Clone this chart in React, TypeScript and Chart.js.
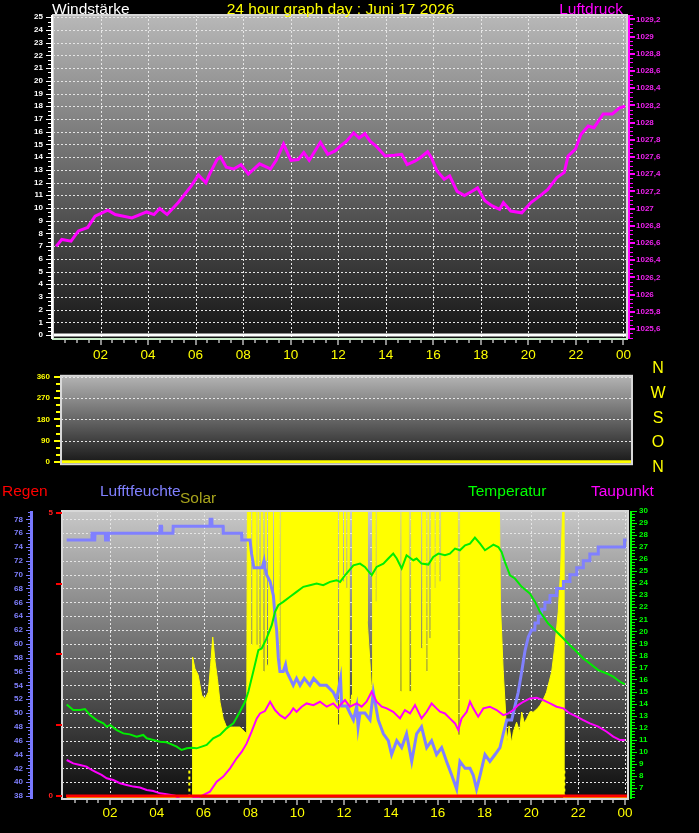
import React, { useEffect, useRef } from "react";
import { Chart, registerables } from "chart.js";

Chart.register(...registerables);

const FONT = '"Liberation Sans", Arial, Helvetica, sans-serif';

// ---------- axis ticks ----------
const hourTicks = [2, 4, 6, 8, 10, 12, 14, 16, 18, 20, 22, 24];
const hourLabels = ["02", "04", "06", "08", "10", "12", "14", "16", "18", "20", "22", "00"];
const windTicks = [0, 1, 2, 3, 4, 5, 6, 7, 8, 9, 10, 11, 12, 13, 14, 15, 16, 17, 18, 19, 20, 21, 22, 23, 24, 25];
const pressureTicks = [1025.6, 1025.8, 1026, 1026.2, 1026.4, 1026.6, 1026.8, 1027, 1027.2, 1027.4, 1027.6, 1027.8, 1028, 1028.2, 1028.4, 1028.6, 1028.8, 1029, 1029.2];
const directionTicks = [0, 90, 180, 270, 360];
const humidityTicks = [38, 40, 42, 44, 46, 48, 50, 52, 54, 56, 58, 60, 62, 64, 66, 68, 70, 72, 74, 76, 78];
const temperatureTicks = [7, 8, 9, 10, 11, 12, 13, 14, 15, 16, 17, 18, 19, 20, 21, 22, 23, 24, 25, 26, 27, 28, 29, 30];
const rainTicks = [0, 5];

// ---------- series: [hour, value] ----------
const windSpeed: [number, number][] = [[0, 0], [24.15, 0]];
const windDirection: [number, number][] = [[0, 0], [24.15, 0]];
const rain: [number, number][] = [[0.12, 0], [24.13, 0]];

const pressure: [number, number][] = [
  [0.13, 1026.56], [0.37, 1026.64], [0.76, 1026.62], [1.07, 1026.74], [1.46, 1026.78], [1.77, 1026.91],
  [2.31, 1026.98], [2.62, 1026.93], [3.32, 1026.89], [3.94, 1026.96], [4.25, 1026.93], [4.49, 1027.0],
  [4.8, 1026.93], [5.27, 1027.07], [5.81, 1027.26], [6.12, 1027.39], [6.43, 1027.3], [6.59, 1027.4],
  [6.9, 1027.57], [7.05, 1027.6], [7.29, 1027.48], [7.6, 1027.46], [7.91, 1027.51], [8.22, 1027.4],
  [8.69, 1027.52], [9.15, 1027.46], [9.39, 1027.56], [9.7, 1027.75], [10.01, 1027.56], [10.32, 1027.57],
  [10.55, 1027.65], [10.78, 1027.56], [11.25, 1027.77], [11.56, 1027.63], [11.87, 1027.67], [12.11, 1027.73],
  [12.34, 1027.78], [12.65, 1027.88], [12.88, 1027.82], [13.12, 1027.87], [13.35, 1027.78], [13.58, 1027.73],
  [13.97, 1027.61], [14.36, 1027.62], [14.67, 1027.63], [14.9, 1027.51], [15.22, 1027.55], [15.45, 1027.59],
  [15.76, 1027.66], [15.92, 1027.59], [16.15, 1027.44], [16.46, 1027.34], [16.69, 1027.38], [17.0, 1027.2],
  [17.31, 1027.15], [17.63, 1027.2], [17.86, 1027.24], [18.17, 1027.09], [18.48, 1027.03], [18.79, 1026.99],
  [18.95, 1027.07], [19.26, 1026.97], [19.72, 1026.95], [20.11, 1027.07], [20.5, 1027.15], [20.81, 1027.22],
  [21.2, 1027.36], [21.51, 1027.42], [21.67, 1027.61], [21.98, 1027.69], [22.21, 1027.86], [22.52, 1027.96],
  [22.76, 1027.94], [23.15, 1028.1], [23.53, 1028.1], [23.84, 1028.17], [24.08, 1028.19],
];

const humidity: [number, number][] = [
  [0.15, 75], [1.22, 75], [1.23, 76], [1.28, 76], [1.29, 75], [1.35, 75], [1.36, 76], [1.8, 76], [1.81, 75],
  [1.92, 75], [1.93, 76], [4.13, 76], [4.14, 77], [4.2, 77], [4.21, 76], [4.69, 76], [4.7, 77], [6.27, 77],
  [6.28, 78], [6.35, 78], [6.36, 77], [6.83, 77], [6.84, 76], [7.62, 76], [7.63, 75], [7.98, 75],
  [8.05, 73], [8.15, 71], [8.5, 71], [8.58, 72], [8.62, 71], [8.69, 70], [8.84, 69], [8.98, 67], [9.05, 64],
  [9.12, 62], [9.19, 58], [9.26, 56], [9.4, 56], [9.5, 57], [9.55, 56], [9.69, 55], [9.83, 54], [9.97, 55],
  [10.12, 54], [10.3, 55], [10.54, 54], [10.7, 55], [10.97, 54], [11.25, 54], [11.54, 53], [11.68, 52],
  [11.85, 55], [11.9, 51], [12.11, 51], [12.25, 50], [12.4, 49], [12.54, 51], [12.6, 48], [12.68, 50],
  [12.89, 50], [13.11, 49], [13.25, 53], [13.46, 49], [13.68, 47], [13.89, 46], [14.03, 44], [14.25, 46],
  [14.46, 45], [14.67, 47], [14.89, 43], [15.1, 47], [15.31, 48], [15.53, 45], [15.74, 46], [15.95, 44],
  [16.17, 45], [16.38, 43], [16.6, 41], [16.81, 39], [16.95, 43], [17.17, 42], [17.38, 42], [17.52, 41],
  [17.66, 39], [17.81, 41], [18.02, 44], [18.23, 43], [18.45, 44], [18.66, 45], [18.8, 47], [18.95, 49],
  [19.16, 49], [19.3, 51], [19.44, 53], [19.59, 56], [19.73, 59], [19.87, 61], [20.01, 62], [20.15, 62],
  [20.16, 63], [20.29, 63], [20.3, 64], [20.43, 64], [20.44, 65], [20.57, 65], [20.58, 66], [20.79, 66],
  [20.8, 67], [21.07, 67], [21.08, 68], [21.36, 68], [21.37, 69], [21.64, 69], [21.65, 70], [21.93, 70],
  [21.94, 71], [22.21, 71], [22.22, 72], [22.49, 72], [22.5, 73], [22.85, 73], [22.86, 74], [23.97, 74],
  [23.98, 75], [24.07, 75],
];

const temperature: [number, number][] = [
  [0.15, 13.93], [0.43, 13.46], [0.72, 13.46], [0.93, 13.54], [1.15, 13.04], [1.43, 12.63], [1.72, 12.35],
  [1.86, 12.07], [2.0, 12.22], [2.29, 11.8], [2.57, 11.52], [2.85, 11.44], [3.14, 11.25], [3.42, 11.39],
  [3.57, 11.11], [3.85, 10.97], [4.14, 10.83], [4.42, 10.78], [4.63, 10.61], [4.85, 10.42], [5.06, 10.14],
  [5.28, 10.28], [5.49, 10.33], [5.7, 10.28], [5.92, 10.42], [6.13, 10.56], [6.41, 11.11], [6.7, 11.39],
  [6.98, 11.94], [7.27, 12.35], [7.55, 13.32], [7.77, 14.15], [7.91, 14.98], [8.12, 16.64], [8.34, 18.44],
  [8.48, 18.58], [8.69, 19.41], [8.91, 20.51], [9.05, 21.62], [9.19, 22.17], [9.4, 22.45], [9.69, 22.87],
  [9.97, 23.28], [10.26, 23.7], [10.54, 23.83], [10.83, 23.97], [11.11, 23.83], [11.4, 24.11], [11.68, 24.25],
  [11.83, 24.11], [12.04, 24.66], [12.4, 25.49], [12.68, 25.63], [12.89, 25.35], [13.18, 24.66], [13.39, 25.35],
  [13.68, 25.63], [13.89, 26.05], [14.1, 26.46], [14.25, 26.05], [14.46, 25.22], [14.67, 26.32], [14.96, 25.91],
  [15.1, 26.05], [15.31, 25.63], [15.6, 25.55], [15.81, 26.19], [16.03, 26.46], [16.31, 26.32], [16.52, 26.46],
  [16.74, 26.88], [16.95, 26.74], [17.17, 27.15], [17.38, 27.29], [17.59, 27.79], [17.81, 27.29], [18.02, 26.74],
  [18.23, 27.01], [18.38, 27.21], [18.59, 27.01], [18.73, 26.6], [18.87, 25.77], [19.09, 24.66], [19.3, 24.39],
  [19.59, 23.7], [19.94, 23.14], [20.16, 22.45], [20.37, 21.62], [20.72, 20.65], [21.08, 19.96], [21.37, 19.41],
  [21.65, 18.85], [21.94, 18.3], [22.22, 17.75], [22.5, 17.33], [22.86, 16.78], [23.22, 16.5], [23.5, 16.23],
  [23.79, 15.81], [24.0, 15.59],
];

const dewPoint: [number, number][] = [
  [0.15, 9.31], [0.43, 9.03], [0.72, 8.89], [1.0, 8.76], [1.22, 8.48], [1.36, 8.34], [1.64, 8.07], [1.86, 7.79],
  [2.14, 7.65], [2.43, 7.38], [2.71, 7.24], [3.0, 7.1], [3.28, 7.02], [3.57, 6.82], [3.85, 6.74], [4.14, 6.54],
  [4.42, 6.46], [4.78, 6.35], [4.99, 6.07], [5.35, 6.0], [5.56, 6.13], [5.85, 6.27], [6.27, 6.68], [6.56, 7.51],
  [6.84, 7.93], [7.13, 8.62], [7.41, 9.45], [7.63, 10.0], [7.84, 10.69], [8.05, 11.66], [8.27, 12.77],
  [8.41, 13.18], [8.62, 13.38], [8.84, 14.15], [9.05, 13.46], [9.26, 13.04], [9.48, 12.77], [9.69, 13.18],
  [9.83, 13.6], [9.97, 13.32], [10.19, 13.74], [10.4, 14.01], [10.69, 13.87], [10.97, 14.15], [11.26, 13.74],
  [11.54, 14.01], [11.75, 13.6], [11.83, 13.87], [12.04, 14.29], [12.25, 13.74], [12.54, 14.01], [12.75, 13.74],
  [12.96, 14.15], [13.18, 14.98], [13.39, 14.15], [13.61, 13.74], [13.82, 13.6], [14.1, 13.32], [14.39, 12.77],
  [14.6, 13.46], [14.82, 13.18], [15.03, 13.87], [15.31, 12.77], [15.53, 13.32], [15.74, 14.01], [15.95, 13.6],
  [16.1, 13.32], [16.31, 13.18], [16.52, 12.77], [16.74, 12.35], [16.88, 11.8], [17.02, 12.77], [17.24, 13.32],
  [17.38, 14.15], [17.52, 13.6], [17.73, 12.91], [17.95, 13.6], [18.23, 13.74], [18.52, 13.46], [18.8, 13.04],
  [19.02, 13.18], [19.23, 13.46], [19.44, 13.87], [19.66, 14.15], [19.94, 14.43], [20.23, 14.48], [20.51, 14.29],
  [20.8, 14.01], [21.08, 13.74], [21.37, 13.6], [21.65, 13.18], [21.94, 12.91], [22.22, 12.63], [22.5, 12.35],
  [22.86, 12.08], [23.22, 11.66], [23.5, 11.25], [23.79, 10.97], [24.0, 10.97],
];

const solar: [number, number][] = [
  [0.15, 0], [5.52, 0], [5.53, 490], [5.63, 450], [5.77, 427], [5.92, 357], [6.06, 345], [6.2, 368],
  [6.3, 462], [6.39, 560], [6.49, 473], [6.59, 415], [6.7, 333], [6.84, 275], [6.98, 246], [7.27, 246],
  [7.55, 246], [7.77, 228], [7.84, 224], [7.87, 1000],
  [8.0, 1000], [8.01, 532], [8.09, 532], [8.1, 1000],
  [8.22, 1000], [8.23, 532], [8.31, 532], [8.32, 1000],
  [8.36, 1000], [8.37, 521], [8.45, 521], [8.46, 1000],
  [8.53, 1000], [8.54, 439], [8.62, 439], [8.63, 1000],
  [8.67, 1000], [8.68, 462], [8.76, 462], [8.77, 1000],
  [8.93, 1000], [8.94, 672], [9.02, 672], [9.03, 1000],
  [9.21, 1000], [9.22, 462], [9.3, 462], [9.31, 1000],
  [11.7, 1000], [11.71, 253], [11.79, 253], [11.8, 1000],
  [11.92, 1000], [11.93, 753], [12.01, 753], [12.02, 1000],
  [12.06, 1000], [12.07, 730], [12.15, 730], [12.16, 1000],
  [12.2, 1000], [12.21, 300], [12.27, 300], [12.32, 358], [12.35, 358], [12.36, 1000],
  [12.98, 1000], [12.99, 614], [13.1, 480], [13.18, 370], [13.21, 370], [13.22, 1000],
  [13.31, 1000], [13.32, 683], [13.4, 683], [13.41, 1000],
  [14.37, 1000], [14.38, 370], [14.46, 370], [14.47, 1000],
  [14.77, 1000], [14.78, 370], [14.86, 370], [14.87, 1000],
  [15.26, 1000], [15.27, 520], [15.35, 520], [15.36, 1000],
  [15.48, 1000], [15.49, 439], [15.57, 439], [15.58, 1000],
  [15.62, 1000], [15.63, 555], [15.71, 555], [15.72, 1000],
  [15.83, 1000], [15.84, 730], [15.92, 730], [15.93, 1000],
  [16.05, 1000], [16.06, 753], [16.14, 753], [16.15, 1000],
  [16.86, 1000], [16.87, 218], [16.95, 218], [16.96, 1000],
  [18.64, 1000], [18.68, 672], [18.8, 439], [18.9, 300], [18.95, 190], [19.05, 250], [19.16, 190],
  [19.23, 230], [19.37, 263], [19.5, 230], [19.59, 298], [19.7, 260], [19.8, 275], [19.95, 300], [20.08, 298],
  [20.25, 310], [20.37, 322], [20.5, 340], [20.65, 368], [20.87, 439], [21.01, 531], [21.15, 648], [21.25, 788],
  [21.34, 1000], [21.38, 1000], [21.39, 0], [24.1, 0],
];

const sunrise: [number, number][] = [[5.39, 0], [5.39, 95]];
const sunset: [number, number][] = [[21.41, 0], [21.41, 95]];

// ---------- helpers ----------
const pts = (s: [number, number][]) => s.map(([x, y]) => ({ x, y }));

function seq(from: number, to: number, inc: number): number[] {
  const n = Math.round((to - from) / inc);
  return Array.from({ length: n + 1 }, (_, i) => +(from + i * inc).toFixed(4));
}

type Comb = { scale: string; values: number[]; pos: number; len: number; color: string; width: number };
interface Deco {
  bg: [string, string];
  grids: { scale: string; values: number[] }[];
  combs: Comb[];
  bars: { x: number; w: number; color: string }[];
  border: string;
  borderBottom?: string;
}

function decoPlugin(d: Deco) {
  return {
    id: "deco",
    beforeDatasetsDraw(chart: any) {
      const { ctx, chartArea: a } = chart;
      ctx.save();
      const g = ctx.createLinearGradient(0, a.top, 0, a.bottom);
      g.addColorStop(0, d.bg[0]);
      g.addColorStop(1, d.bg[1]);
      ctx.fillStyle = g;
      ctx.fillRect(a.left, a.top, a.right - a.left, a.bottom - a.top);
      ctx.strokeStyle = "#e6e6e6";
      ctx.lineWidth = 1;
      ctx.setLineDash([2, 2]);
      for (const gr of d.grids) {
        const s = chart.scales[gr.scale];
        for (const v of gr.values) {
          if (v < s.min || v > s.max) continue;
          const p = Math.round(s.getPixelForValue(v)) + 0.5;
          ctx.beginPath();
          if (s.isHorizontal()) {
            ctx.moveTo(p, a.top);
            ctx.lineTo(p, a.bottom);
          } else {
            ctx.moveTo(a.left, p);
            ctx.lineTo(a.right, p);
          }
          ctx.stroke();
        }
      }
      ctx.restore();
    },
    afterDatasetsDraw(chart: any) {
      const { ctx, chartArea: a } = chart;
      ctx.save();
      ctx.setLineDash([]);
      ctx.lineWidth = 2;
      ctx.strokeStyle = d.border;
      ctx.strokeRect(a.left, a.top, a.right - a.left, a.bottom - a.top);
      if (d.borderBottom) {
        ctx.strokeStyle = d.borderBottom;
        ctx.beginPath();
        ctx.moveTo(a.left - 1, a.bottom);
        ctx.lineTo(a.right + 1, a.bottom);
        ctx.stroke();
      }
      for (const b of d.bars) {
        ctx.fillStyle = b.color;
        ctx.fillRect(b.x, a.top, b.w, a.bottom - a.top);
      }
      for (const c of d.combs) {
        const s = chart.scales[c.scale];
        ctx.strokeStyle = c.color;
        ctx.lineWidth = c.width;
        const off = c.width % 2 === 1 ? 0.5 : 0;
        for (const v of c.values) {
          if (v < s.min - 1e-9 || v > s.max + 1e-9) continue;
          const p = Math.round(s.getPixelForValue(v)) + off;
          ctx.beginPath();
          if (s.isHorizontal()) {
            const y0 = a.bottom + c.pos;
            ctx.moveTo(p, y0);
            ctx.lineTo(p, y0 + c.len);
          } else {
            ctx.moveTo(c.pos, p);
            ctx.lineTo(c.pos + c.len, p);
          }
          ctx.stroke();
        }
      }
      ctx.restore();
    },
  };
}

const tickFont = { family: FONT, size: 8, weight: "bold" as const };
const noGrid = { display: false, drawTicks: false };

function timeAxis(min: number, max: number, height: number, padding: number, show = true) {
  return {
    type: "linear" as const,
    position: "bottom" as const,
    display: show,
    min,
    max,
    grid: noGrid,
    border: { display: false },
    ticks: {
      color: "#ffff00",
      font: { family: FONT, size: 13.5 },
      padding,
      autoSkip: false,
      maxRotation: 0,
      callback: (_v: any, i: number) => hourLabels[i],
    },
    afterBuildTicks: (s: any) => {
      s.ticks = hourTicks.map((v) => ({ value: v }));
    },
    afterFit: (s: any) => {
      s.height = height;
    },
  };
}

function valueAxis(
  position: "left" | "right",
  min: number,
  max: number,
  ticks: number[],
  color: string,
  padding: number,
  width: number,
  extra: any = {}
) {
  return {
    type: "linear" as const,
    position,
    min,
    max,
    grid: noGrid,
    border: { display: false },
    ticks: { color, font: tickFont, padding, autoSkip: false, ...(extra.ticks || {}) },
    afterBuildTicks: (s: any) => {
      s.ticks = ticks.map((v) => ({ value: v }));
    },
    afterFit: (s: any) => {
      s.width = width;
    },
    weight: extra.weight || 0,
  };
}

const baseOptions = {
  animation: false as const,
  responsive: false,
  events: [] as any[],
  elements: { point: { radius: 0 }, line: { tension: 0 } },
  plugins: { legend: { display: false }, tooltip: { enabled: false } },
};

function topConfig(): any {
  return {
    type: "line",
    data: {
      datasets: [
        { data: pts(pressure), yAxisID: "yP", borderColor: "#ff00ff", borderWidth: 3 },
        { data: pts(windSpeed), yAxisID: "yW", borderColor: "#ffffff", borderWidth: 3 },
      ],
    },
    options: {
      ...baseOptions,
      layout: { padding: { top: 15, left: 0, right: 0, bottom: 0 } },
      scales: {
        x: timeAxis(0, 24.15, 26, 8),
        yW: valueAxis("left", -0.31, 25.18, windTicks, "#ffffff", 10, 53),
        yP: valueAxis("right", 1025.483, 1029.25, pressureTicks, "#ee22ee", 9, 72, {
          ticks: { callback: (v: number) => String(Math.round(v * 10) / 10).replace(".", ",") },
        }),
      },
    },
    plugins: [
      decoPlugin({
        bg: ["#b8b8b8", "#141414"],
        grids: [
          { scale: "yW", values: seq(1, 25, 1) },
          { scale: "x", values: hourTicks },
        ],
        combs: [
          { scale: "yW", values: seq(0, 25, 1 / 3), pos: 51, len: -3, color: "#ffffff", width: 1 },
          { scale: "yW", values: windTicks, pos: 51, len: -5, color: "#ffffff", width: 1 },
          { scale: "yP", values: seq(1025.5, 1029.25, 0.05), pos: 630, len: 3, color: "#ff00ff", width: 1 },
          { scale: "yP", values: pressureTicks, pos: 630, len: 5, color: "#ff00ff", width: 2 },
          { scale: "x", values: seq(0.5, 24, 0.5), pos: 1, len: 3, color: "#8c8c8c", width: 2 },
          { scale: "x", values: hourTicks, pos: 1, len: 5, color: "#8c8c8c", width: 2 },
        ],
        bars: [
          { x: 51, w: 2, color: "#ffffff" },
          { x: 628, w: 2, color: "#ff00ff" },
        ],
        border: "#d6d6d6",
        borderBottom: "#c8ecc8",
      }),
    ],
  };
}

function midConfig(): any {
  return {
    type: "line",
    data: {
      datasets: [{ data: pts(windDirection), yAxisID: "y", borderColor: "#ffff00", borderWidth: 3 }],
    },
    options: {
      ...baseOptions,
      layout: { padding: { top: 7, left: 0, right: 67, bottom: 11 } },
      scales: {
        x: timeAxis(0, 24.15, 0, 0, false),
        y: valueAxis("left", -9.9, 364.8, directionTicks, "#ffff00", 11, 61),
      },
    },
    plugins: [
      decoPlugin({
        bg: ["#b4b4b4", "#161616"],
        grids: [{ scale: "y", values: [90, 180, 270, 360] }],
        combs: [
          { scale: "y", values: seq(0, 360, 30), pos: 60, len: -4, color: "#ffff00", width: 2 },
          { scale: "y", values: directionTicks, pos: 60, len: -6, color: "#ffff00", width: 2 },
        ],
        bars: [],
        border: "#d8d8d8",
      }),
    ],
  };
}

function botConfig(): any {
  return {
    type: "line",
    data: {
      datasets: [
        { data: pts(rain), yAxisID: "yR", borderColor: "#ff0000", borderWidth: 3 },
        { data: pts(dewPoint), yAxisID: "yT", borderColor: "#ff00ff", borderWidth: 2 },
        { data: pts(temperature), yAxisID: "yT", borderColor: "#00ee00", borderWidth: 2 },
        { data: pts(humidity), yAxisID: "yH", borderColor: "#8080ff", borderWidth: 3 },
        { data: pts(sunrise), yAxisID: "yS", borderColor: "#ffff00", borderWidth: 2, borderDash: [3, 3] },
        { data: pts(sunset), yAxisID: "yS", borderColor: "#ffff00", borderWidth: 2, borderDash: [3, 3] },
        {
          data: pts(solar),
          yAxisID: "yS",
          borderColor: "#ffff00",
          backgroundColor: "#ffff00",
          borderWidth: 1,
          fill: "origin",
        },
      ],
    },
    options: {
      ...baseOptions,
      layout: { padding: { top: 31, left: 0, right: 0, bottom: 0 } },
      scales: {
        x: timeAxis(-0.05, 24.13, 34, 6),
        yH: valueAxis("left", 37.57, 79.2, humidityTicks, "#8080ff", 10, 33, { weight: 10 }),
        yR: valueAxis("left", -0.053, 5.035, rainTicks, "#ff2020", 9, 29, { weight: 0 }),
        yT: valueAxis("right", 6.07, 30.0, temperatureTicks, "#00ff00", 11, 71),
        yS: { type: "linear", display: false, min: -5, max: 1000 },
      },
    },
    plugins: [
      decoPlugin({
        bg: ["#c8c8c8", "#0c0c0c"],
        grids: [
          { scale: "yH", values: seq(40, 78, 2) },
          { scale: "x", values: hourTicks },
        ],
        combs: [
          { scale: "yH", values: seq(38, 79, 0.5), pos: 30, len: -2, color: "#7878ff", width: 1 },
          { scale: "yH", values: humidityTicks, pos: 30, len: -4, color: "#7878ff", width: 1 },
          { scale: "yR", values: [0, 1.25, 2.5, 3.75, 5], pos: 62, len: -6, color: "#ff0000", width: 2 },
          { scale: "yT", values: seq(6.25, 30, 0.25), pos: 632, len: 3, color: "#00ff00", width: 1 },
          { scale: "yT", values: temperatureTicks, pos: 632, len: 5, color: "#00ff00", width: 1 },
          { scale: "x", values: seq(0.5, 24, 0.5), pos: 1, len: 3, color: "#8c8c8c", width: 2 },
          { scale: "x", values: hourTicks, pos: 1, len: 5, color: "#8c8c8c", width: 2 },
        ],
        bars: [
          { x: 30, w: 3, color: "#7878ff" },
          { x: 630, w: 2, color: "#00ff00" },
        ],
        border: "#d8d8d8",
      }),
    ],
  };
}

function Txt(props: {
  x: number;
  base: number;
  color: string;
  size?: number;
  align?: "left" | "right" | "center" | "middle";
  children: React.ReactNode;
}) {
  const size = props.size ?? 15.5;
  const style: React.CSSProperties = {
    position: "absolute",
    fontFamily: FONT,
    fontSize: size,
    lineHeight: `${size}px`,
    color: props.color,
    whiteSpace: "nowrap",
    top: props.base - 0.8465 * size,
  };
  if (props.align === "right") style.right = 699 - props.x;
  else style.left = props.x;
  if (props.align === "center") style.transform = "translateX(-50%)";
  if (props.align === "middle") {
    style.top = props.base;
    style.transform = "translate(-50%, -50%)";
  }
  return <div style={style}>{props.children}</div>;
}

export default function App() {
  const topRef = useRef<HTMLCanvasElement>(null);
  const midRef = useRef<HTMLCanvasElement>(null);
  const botRef = useRef<HTMLCanvasElement>(null);

  useEffect(() => {
    const charts = [
      new Chart(topRef.current!, topConfig()),
      new Chart(midRef.current!, midConfig()),
      new Chart(botRef.current!, botConfig()),
    ];
    return () => charts.forEach((c) => c.destroy());
  }, []);

  return (
    <div
      style={{
        position: "absolute",
        left: 0,
        top: 0,
        width: 699,
        height: 833,
        background: "#000",
        overflow: "hidden",
      }}
    >
      <canvas ref={topRef} width={699} height={365} style={{ position: "absolute", left: 0, top: 0 }} />
      <canvas ref={midRef} width={699} height={120} style={{ position: "absolute", left: 0, top: 360 }} />
      <canvas ref={botRef} width={699} height={353} style={{ position: "absolute", left: 0, top: 480 }} />

      <Txt x={52} base={14} color="#ffffff">Windstärke</Txt>
      <Txt x={340.5} base={14} color="#ffff00" align="center">24 hour graph day : Juni 17 2026</Txt>
      <Txt x={623} base={14} color="#ff00ff" align="right">Luftdruck</Txt>

      <Txt x={658} base={368} color="#ffff00" size={16} align="middle">N</Txt>
      <Txt x={658} base={392.5} color="#ffff00" size={16} align="middle">W</Txt>
      <Txt x={658} base={417.5} color="#ffff00" size={16} align="middle">S</Txt>
      <Txt x={658} base={442} color="#ffff00" size={16} align="middle">O</Txt>
      <Txt x={658} base={466.5} color="#ffff00" size={16} align="middle">N</Txt>

      <Txt x={2} base={496} color="#ff0000">Regen</Txt>
      <Txt x={100} base={496} color="#8080ff">Lufftfeuchte</Txt>
      <Txt x={180} base={503} color="#a8a41c">Solar</Txt>
      <Txt x={468} base={496} color="#00ff00">Temperatur</Txt>
      <Txt x={591} base={496} color="#ff00ff">Taupunkt</Txt>
    </div>
  );
}
